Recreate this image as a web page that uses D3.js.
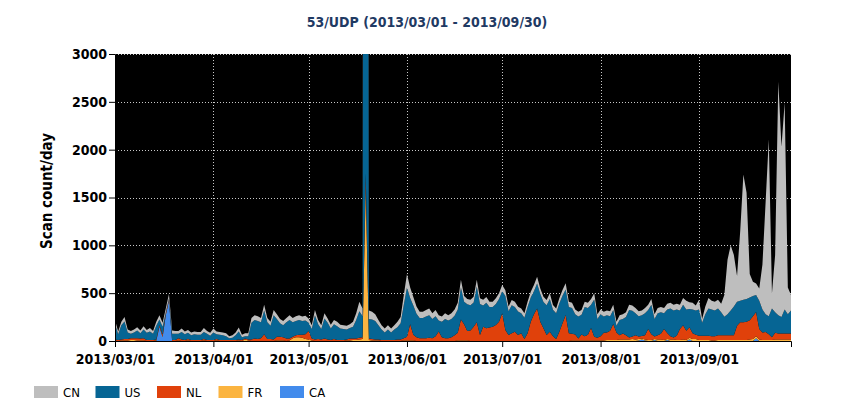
<!DOCTYPE html>
<html>
<head>
<meta charset="utf-8">
<script src="https://cdn.jsdelivr.net/npm/d3@7"></script>
<style>
  body { margin: 0; background: #fff; }
  text { font-family: "DejaVu Sans Condensed", "DejaVu Sans", sans-serif; }
</style>
</head>
<body>
<div id="chart"></div>
<script>
// days on the x axis
var firstDay = "2013-03-01";
var lastDay = "2013-09-30";
var yTicks = [0, 500, 1000, 1500, 2000, 2500, 3000];
var countries = ["CN", "US", "NL", "FR", "CA"];

// daily scan counts per country, one row per month (Mar .. Sep)
var cn = [
  40,30,35,45,30,30,30,35,30,35,30,35,30,40,45,40,40,45,35,30,30,35,30,30,30,30,30,30,40,30,30,
  40,30,30,30,30,20,25,30,40,25,30,30,50,50,50,45,60,45,40,55,50,45,45,45,50,45,50,50,45,50,
  45,40,55,45,40,55,45,40,45,45,40,40,40,40,50,70,100,80,8000,90,80,70,55,45,40,45,40,45,55,65,100,
  140,110,90,75,65,65,70,70,60,65,55,55,60,55,60,65,70,80,60,55,55,60,70,60,60,60,55,55,60,60,
  65,60,50,55,55,50,50,45,55,60,65,70,60,55,55,60,50,50,55,60,65,55,55,50,50,50,55,55,60,65,50,
  50,50,50,50,55,40,50,50,50,55,55,55,50,50,55,55,60,50,55,55,55,60,60,60,60,60,70,90,70,70,50,
  100,40,80,110,90,90,90,90,226,570,680,540,269,730,1310,1110,245,150,120,130,470,1170,1850,160,600,2440,1780,2160,280,160
];
var us = [
  165,60,150,185,70,45,60,80,55,90,75,90,65,145,60,85,10,10,65,65,45,80,60,65,50,60,55,55,75,65,45,
  80,50,55,50,40,20,25,50,85,30,25,35,175,195,190,165,250,175,140,255,185,140,125,170,195,150,150,155,145,145,
  85,100,255,155,110,210,175,120,155,145,120,115,105,110,125,195,275,220,20000,205,205,195,150,110,80,110,80,110,130,170,350,
  515,275,305,245,210,210,225,235,200,210,115,160,200,185,190,205,245,335,235,280,265,253,375,323,220,268,216,206,219,240,
  231,355,247,293,258,246,211,223,276,254,240,261,288,276,310,340,276,270,293,288,266,276,270,212,231,206,305,280,243,390,197,
  230,172,180,152,148,70,160,152,190,289,267,230,212,217,230,200,310,182,230,225,165,247,290,284,275,195,215,222,190,250,255,
  275,135,225,285,280,270,280,240,194,220,260,300,251,225,235,240,238,210,176,295,240,185,190,302,215,192,172,252,202,242
];
var nl = [
  10,10,10,15,15,20,20,25,20,25,10,10,10,10,15,20,15,15,10,10,25,15,10,15,10,10,10,10,15,10,10,
  10,15,10,10,10,10,10,10,10,10,10,10,15,25,20,30,70,20,20,15,40,40,35,25,20,15,20,25,30,50,
  90,20,15,20,15,25,15,10,20,10,10,10,10,20,15,15,20,20,150,15,15,10,10,10,10,10,10,10,15,15,25,
  40,170,60,40,30,30,30,35,30,50,100,40,30,30,40,60,80,220,170,100,110,150,195,63,150,132,140,150,167,200,
  289,115,63,80,98,63,80,21,80,202,280,341,202,132,63,98,50,21,98,185,272,80,70,63,21,63,45,60,132,40,28,
  45,80,80,98,167,80,45,63,45,21,28,45,28,28,45,115,60,28,45,60,115,63,35,21,45,115,150,98,110,60,45,
  45,45,45,45,45,45,50,50,50,50,50,50,150,185,185,190,202,240,254,110,80,85,60,28,70,63,63,63,63,63
];
var fr = [
  5,0,5,5,5,10,10,5,5,5,0,0,0,5,0,5,5,0,0,0,5,0,0,5,0,0,0,0,5,0,0,
  0,5,0,0,0,0,0,0,5,0,15,5,0,0,0,0,0,0,0,0,5,5,5,0,5,30,40,40,35,20,
  15,5,0,0,0,0,0,0,0,0,0,0,5,5,10,10,15,20,1600,10,5,5,5,0,0,0,0,0,0,0,5,
  5,5,5,0,0,0,0,0,0,0,0,0,0,0,0,0,5,5,5,5,0,0,0,0,0,0,0,0,0,0,
  0,0,0,0,0,0,0,0,0,0,0,0,0,0,0,0,0,0,0,0,0,0,5,5,5,5,5,5,5,5,5,
  5,5,10,10,10,10,15,15,15,15,20,15,15,10,10,10,10,10,15,15,10,10,15,15,10,10,15,10,20,20,20,
  10,10,10,10,5,5,10,10,10,10,10,10,10,10,10,10,15,20,20,15,10,10,10,10,15,15,15,15,15,15
];
var ca = [
  0,0,0,0,0,0,0,0,0,0,0,0,0,0,150,40,270,420,0,0,0,0,0,0,0,0,0,0,0,0,0,
  0,0,0,0,0,0,0,0,0,0,0,0,0,0,0,0,0,0,0,0,0,0,0,0,0,0,0,0,0,0,
  0,0,0,0,0,0,0,0,0,0,0,0,0,0,0,0,0,0,0,0,0,0,0,0,0,0,0,0,0,0,0,
  0,0,0,0,0,0,0,0,0,0,0,0,0,0,0,0,0,0,0,0,0,0,0,0,0,0,0,0,0,0,
  0,0,0,0,0,0,0,0,0,0,0,0,0,0,0,0,0,0,0,0,0,0,0,0,0,0,0,0,0,0,0,
  0,0,0,0,0,0,0,0,0,0,0,0,5,15,5,0,0,10,0,0,0,10,0,0,0,0,0,0,15,0,0,
  0,0,0,0,0,0,0,0,0,0,0,0,0,0,0,0,0,0,30,0,0,0,0,0,0,0,0,0,0,0
];

var colors = {CN: "#bebebe", US: "#066594", NL: "#e0410b", FR: "#fbb440", CA: "#428bec"};
var series = {CN: cn, US: us, NL: nl, FR: fr, CA: ca};

var parseDay = d3.timeParse("%Y-%m-%d");
var days = d3.timeDays(parseDay(firstDay), d3.timeDay.offset(parseDay(lastDay), 1));
countries.forEach(function (c) {
  if (series[c].length !== days.length) throw new Error(c + " has " + series[c].length + " values, need " + days.length);
});

var rows = days.map(function (d, i) {
  var r = {date: d};
  countries.forEach(function (c) { r[c] = series[c][i]; });
  return r;
});

var width = 850, height = 420;
var plotLeft = 115, plotRight = 791, plotTop = 54, plotBottom = 341;

var svg = d3.select("#chart").append("svg")
  .attr("width", width)
  .attr("height", height);

var x = d3.scaleTime().domain([days[0], days[days.length - 1]]).range([plotLeft, plotRight]);
var y = d3.scaleLinear().domain([0, 3000]).range([plotBottom, plotTop]);

// black plot area
svg.append("rect")
  .attr("x", plotLeft).attr("y", plotTop)
  .attr("width", plotRight - plotLeft).attr("height", plotBottom - plotTop)
  .attr("fill", "#000");

svg.append("clipPath").attr("id", "plot-clip")
  .append("rect")
  .attr("x", plotLeft).attr("y", plotTop)
  .attr("width", plotRight - plotLeft).attr("height", plotBottom - plotTop);

// dotted grid, behind the areas
var monthTicks = x.ticks(d3.timeMonth.every(1));
var grid = svg.append("g").attr("stroke", "#c8c8c8").attr("stroke-dasharray", "1,2");
grid.selectAll("line.h").data(yTicks.filter(function (v) { return v > 0; }))
  .enter().append("line")
  .attr("x1", plotLeft).attr("x2", plotRight)
  .attr("y1", function (v) { return Math.round(y(v)) + 0.5; })
  .attr("y2", function (v) { return Math.round(y(v)) + 0.5; });
grid.selectAll("line.v").data(monthTicks.slice(1))
  .enter().append("line")
  .attr("y1", plotTop).attr("y2", plotBottom)
  .attr("x1", function (d) { return Math.round(x(d)) + 0.5; })
  .attr("x2", function (d) { return Math.round(x(d)) + 0.5; });

// stacked areas, CA at the bottom and CN on top
var stack = d3.stack().keys(countries.slice().reverse());
var layers = stack(rows);

var area = d3.area()
  .x(function (d) { return x(d.data.date); })
  .y0(function (d) { return y(d[0]); })
  .y1(function (d) { return y(d[1]); });

svg.append("g").attr("clip-path", "url(#plot-clip)")
  .selectAll("path")
  .data(layers)
  .enter().append("path")
  .attr("fill", function (d) { return colors[d.key]; })
  .attr("d", area);

// axes
var xAxis = svg.append("g")
  .attr("transform", "translate(0," + plotBottom + ")")
  .call(d3.axisBottom(x)
    .ticks(d3.timeMonth.every(1))
    .tickFormat(d3.timeFormat("%Y/%m/%d"))
    .tickSize(6)
    .tickPadding(7));

var yAxis = svg.append("g")
  .attr("transform", "translate(" + plotLeft + ",0)")
  .call(d3.axisLeft(y).tickValues(yTicks).tickFormat(d3.format("d")).tickSize(6).tickPadding(2));

[xAxis, yAxis].forEach(function (g) {
  g.attr("font-family", null).attr("font-size", null);
  g.selectAll("path, line").attr("stroke", "#000");
  g.selectAll("text")
    .attr("fill", "#000")
    .style("font-size", "14px")
    .style("font-weight", "bold");
});

// title and axis label
svg.append("text")
  .attr("x", 427).attr("y", 27)
  .attr("text-anchor", "middle")
  .attr("fill", "#1f3a63")
  .style("font-size", "14px")
  .style("font-weight", "bold")
  .text("53/UDP (2013/03/01 - 2013/09/30)");

svg.append("text")
  .attr("transform", "translate(52,191) rotate(-90)")
  .attr("text-anchor", "middle")
  .attr("fill", "#000")
  .style("font-size", "15px")
  .style("font-weight", "bold")
  .text("Scan count/day");

// legend
var legend = svg.append("g").selectAll("g")
  .data(countries)
  .enter().append("g")
  .attr("transform", function (c, i) { return "translate(" + (34 + i * 61.5) + ",386)"; });

legend.append("rect")
  .attr("width", 24).attr("height", 12)
  .attr("fill", function (c) { return colors[c]; });

legend.append("text")
  .attr("x", 29).attr("y", 6)
  .attr("dy", "0.36em")
  .attr("fill", "#000")
  .style("font-size", "13px")
  .text(function (c) { return c; });
</script>
</body>
</html>
